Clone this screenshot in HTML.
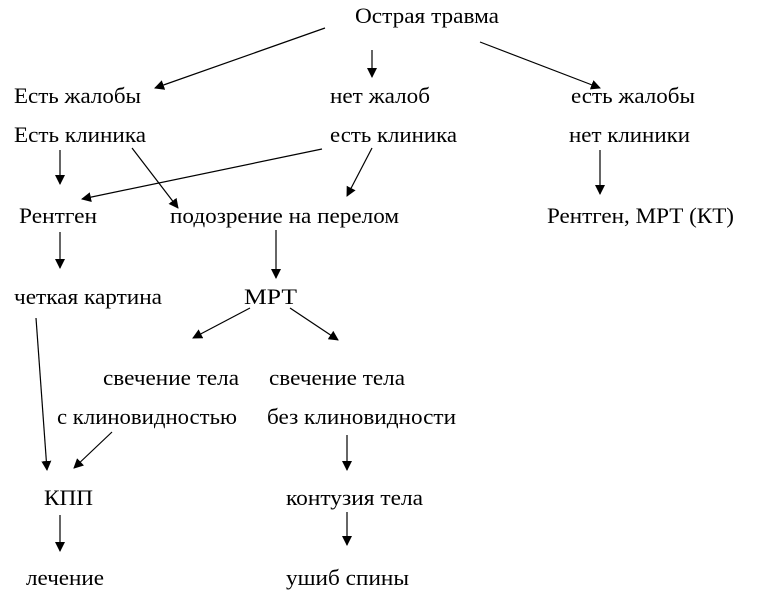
<!DOCTYPE html>
<html><head><meta charset="utf-8"><style>
html,body{margin:0;padding:0;background:#fff;}
svg{display:block;}
text{font-family:"Liberation Serif",serif;font-size:22px;fill:#000;}
</style></head><body>
<svg width="763" height="611" xmlns="http://www.w3.org/2000/svg">
<defs><marker id="a" markerWidth="10" markerHeight="10" refX="9" refY="5" orient="auto" markerUnits="userSpaceOnUse"><path d="M0,0 L10,5 L0,10 Z" fill="#000"/></marker></defs>
<g stroke="#000" stroke-width="1.2" marker-end="url(#a)">
<line x1="325" y1="28" x2="155" y2="88"/>
<line x1="372" y1="50" x2="372" y2="77"/>
<line x1="480" y1="42" x2="600" y2="88"/>
<line x1="60" y1="150" x2="60" y2="184"/>
<line x1="132" y1="148" x2="178" y2="208"/>
<line x1="322" y1="149" x2="82" y2="199"/>
<line x1="372" y1="148" x2="347" y2="196"/>
<line x1="600" y1="150" x2="600" y2="194"/>
<line x1="60" y1="232" x2="60" y2="268"/>
<line x1="276" y1="230" x2="276" y2="278"/>
<line x1="36" y1="318" x2="47" y2="470"/>
<line x1="250" y1="308" x2="193" y2="338"/>
<line x1="290" y1="308" x2="338" y2="340"/>
<line x1="112" y1="432" x2="74" y2="468"/>
<line x1="347" y1="435" x2="347" y2="470"/>
<line x1="60" y1="515" x2="60" y2="551"/>
<line x1="347" y1="512" x2="347" y2="545"/>
</g>
<g lengthAdjust="spacingAndGlyphs">
<text x="355" y="23" textLength="144" lengthAdjust="spacingAndGlyphs">Острая травма</text>
<text x="14" y="103" textLength="127" lengthAdjust="spacingAndGlyphs">Есть жалобы</text>
<text x="330" y="103" textLength="100" lengthAdjust="spacingAndGlyphs">нет жалоб</text>
<text x="571" y="103" textLength="124" lengthAdjust="spacingAndGlyphs">есть жалобы</text>
<text x="14" y="142" textLength="132" lengthAdjust="spacingAndGlyphs">Есть клиника</text>
<text x="330" y="142" textLength="127" lengthAdjust="spacingAndGlyphs">есть клиника</text>
<text x="569" y="142" textLength="121" lengthAdjust="spacingAndGlyphs">нет клиники</text>
<text x="19" y="223" textLength="78" lengthAdjust="spacingAndGlyphs">Рентген</text>
<text x="170" y="223" textLength="229" lengthAdjust="spacingAndGlyphs">подозрение на перелом</text>
<text x="547" y="223" textLength="187" lengthAdjust="spacingAndGlyphs">Рентген, МРТ (КТ)</text>
<text x="14" y="304" textLength="148" lengthAdjust="spacingAndGlyphs">четкая картина</text>
<text x="244" y="304" textLength="53" lengthAdjust="spacingAndGlyphs">МРТ</text>
<text x="103" y="385" textLength="136" lengthAdjust="spacingAndGlyphs">свечение тела</text>
<text x="269" y="385" textLength="136" lengthAdjust="spacingAndGlyphs">свечение тела</text>
<text x="57" y="424" textLength="180" lengthAdjust="spacingAndGlyphs">с клиновидностью</text>
<text x="267" y="424" textLength="189" lengthAdjust="spacingAndGlyphs">без клиновидности</text>
<text x="44" y="505" textLength="49" lengthAdjust="spacingAndGlyphs">КПП</text>
<text x="286" y="505" textLength="137" lengthAdjust="spacingAndGlyphs">контузия тела</text>
<text x="26" y="585" textLength="78" lengthAdjust="spacingAndGlyphs">лечение</text>
<text x="286" y="585" textLength="123" lengthAdjust="spacingAndGlyphs">ушиб спины</text>
</g>
</svg>
</body></html>
